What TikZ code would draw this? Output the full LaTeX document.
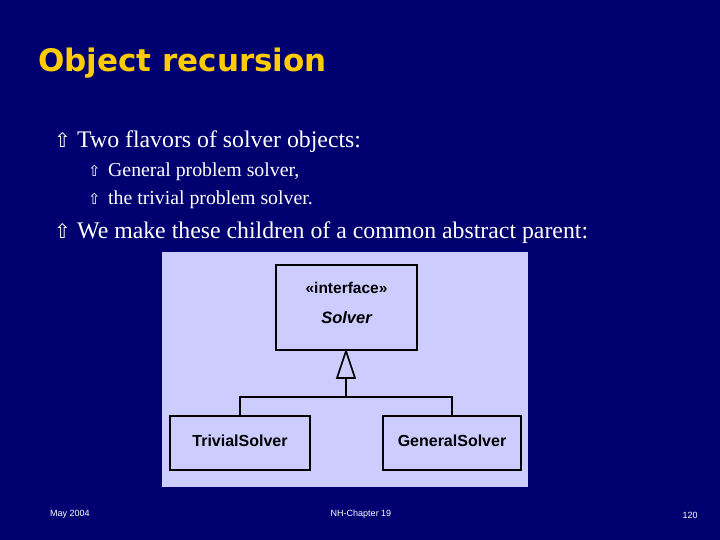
\documentclass[tikz,border=0pt]{standalone}
\usepackage{fontspec}
\setmainfont{Liberation Serif}
\newfontfamily\titlefont{DejaVu Sans}
\newfontfamily\symfont{DejaVu Sans}
\newfontfamily\umlfont{Liberation Sans}
\begin{document}
\begin{tikzpicture}[x=1pt,y=-1pt,
  bul/.style={anchor=base west,text=white,inner sep=0},
  uml/.style={draw=black,line width=1.6pt,fill=umlbg},
  foot/.style={text=white,font=\umlfont\fontsize{9}{10}\selectfont,inner sep=0}]
\definecolor{slidebg}{HTML}{000070}
\definecolor{umlbg}{HTML}{CCCCFF}
\definecolor{titley}{HTML}{FFCC00}
\useasboundingbox (0,0) rectangle (720,540);
\fill[slidebg] (0,0) rectangle (720,540);
\node[anchor=base west,inner sep=0,text=titley,font=\titlefont\bfseries\fontsize{31}{34}\selectfont] (title) at (38,72) {Object recursion};
\node[bul,font=\symfont\fontsize{20}{22}\selectfont] (b1s) at (54,148) {⇧};
\node[bul,font=\fontsize{23.8}{26}\selectfont] (b1) at (77,148) {Two flavors of solver objects:};
\node[bul,font=\symfont\fontsize{15}{18}\selectfont] (b2s) at (88,177) {⇧};
\node[bul,font=\fontsize{19.8}{22}\selectfont] (b2) at (108,177) {General problem solver,};
\node[bul,font=\symfont\fontsize{15}{18}\selectfont] (b3s) at (88,205) {⇧};
\node[bul,font=\fontsize{19.8}{22}\selectfont] (b3) at (108,205) {the trivial problem solver.};
\node[bul,font=\symfont\fontsize{20}{22}\selectfont] (b4s) at (54,239) {⇧};
\node[bul,font=\fontsize{23.8}{26}\selectfont] (b4) at (77,239) {We make these children of a common abstract parent:};
\fill[umlbg] (162,252) rectangle (528,487);
\draw[uml] (276,265) rectangle (417,350);
\node[font=\umlfont\bfseries\fontsize{15.5}{18}\selectfont,inner sep=0] (st) at (346.5,288) {«interface»};
\node[font=\umlfont\bfseries\itshape\fontsize{16.5}{18}\selectfont,inner sep=0] (sv) at (346.5,318) {Solver};
\draw[uml] (170,416) rectangle (310,470);
\node[font=\umlfont\bfseries\fontsize{16}{18}\selectfont,inner sep=0] (tr) at (240,441) {TrivialSolver};
\draw[uml] (383,416) rectangle (521,470);
\node[font=\umlfont\bfseries\fontsize{16}{18}\selectfont,inner sep=0] (ge) at (452,441) {GeneralSolver};
\coordinate (apex) at (346,351);
\coordinate (base) at (346,378);
\coordinate (j) at (346,397);
\draw[line width=1.6pt,fill=umlbg,line join=miter] (apex) -- (355,378) -- (337,378) -- cycle;
\draw[line width=1.6pt] (base) -- (j);
\draw[line width=1.6pt] (240,416) |- (j) -| (452,416);
\node[foot,anchor=west] (f1) at (50,514) {May 2004};
\node[foot] (f2) at (361,514) {NH-Chapter 19};
\node[foot] (f3) at (690,515) {120};
\end{tikzpicture}
\end{document}
